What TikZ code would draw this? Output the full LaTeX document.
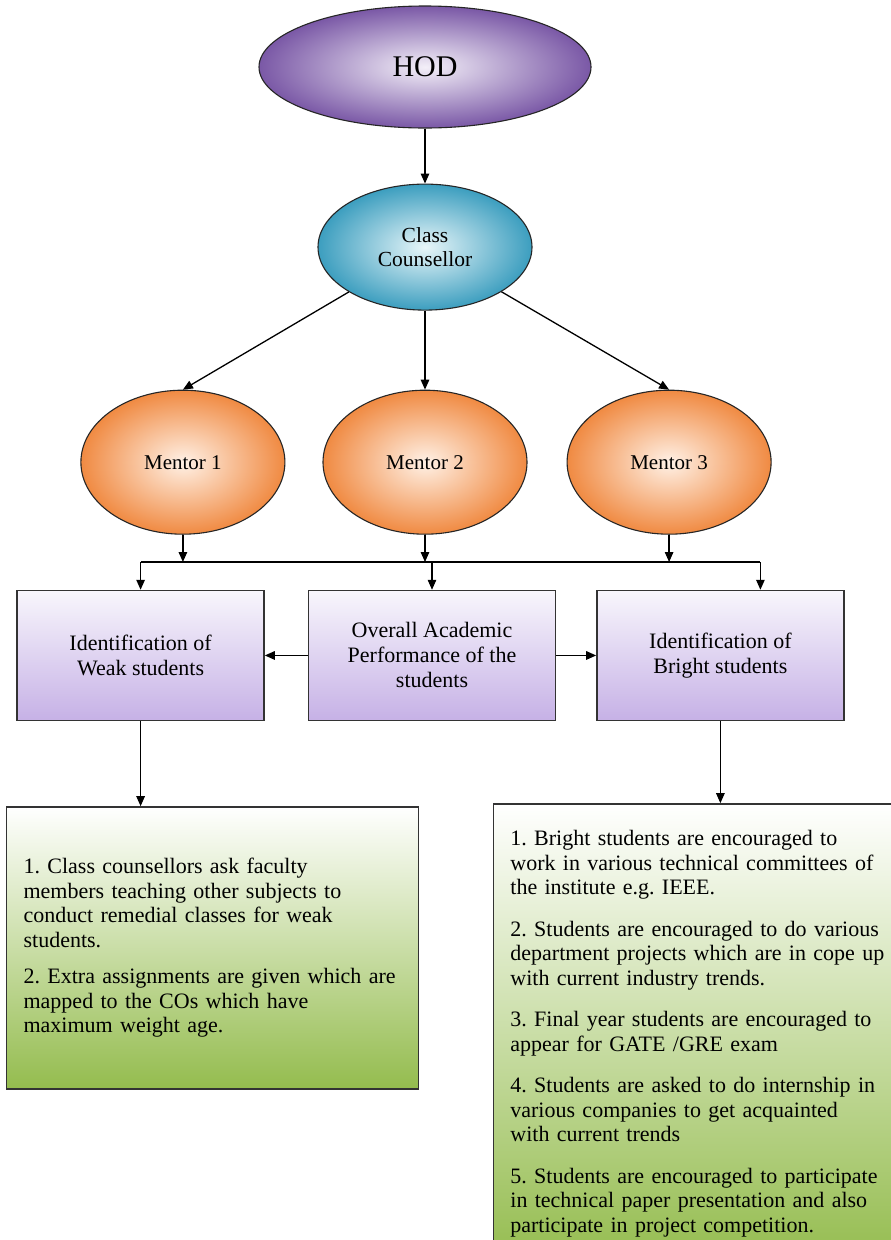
\documentclass[tikz,border=0pt]{standalone}
\usepackage{fontspec}
\setmainfont{Liberation Serif}
\frenchspacing
\usetikzlibrary{shapes.geometric, arrows.meta, positioning, calc}

\definecolor{hodpurple}{HTML}{7A58A6}
\definecolor{hodlight}{HTML}{F3EFF8}
\definecolor{ccblue}{HTML}{3C9EBF}
\definecolor{cclight}{HTML}{E8F6F9}
\definecolor{mentororange}{HTML}{F08A42}
\definecolor{mentorlight}{HTML}{FFF1E6}
\definecolor{boxtop}{HTML}{F8F6FC}
\definecolor{boxlav}{HTML}{C6B1E6}
\definecolor{notegreen}{HTML}{94BC4E}

\begin{document}
\begin{tikzpicture}[
    x=1pt, y=-1pt,
    line width=1.3pt,
    >={Triangle[length=10pt, width=8.5pt]},
    oval/.style={ellipse, draw=black!85, line width=1.1pt, inner sep=0pt, align=center},
    mentor/.style={oval, minimum width=204pt, minimum height=144pt, inner color=mentorlight, outer color=mentororange, font=\fontsize{21}{24}\selectfont},
    box/.style={rectangle, draw=black!80, line width=1.4pt, minimum width=247pt, minimum height=130pt, align=center, top color=boxtop, bottom color=boxlav, font=\fontsize{22}{25}\selectfont},
    notes/.style={rectangle, draw=black!80, line width=1.4pt, inner xsep=17pt, align=left, top color=white, bottom color=notegreen, font=\fontsize{22}{24.5}\selectfont}
]
    \useasboundingbox (0,0) rectangle (891,1240);
    \fill[white] (0,0) rectangle (891,1240);
    \clip (0,0) rectangle (891,1240);

    \node[oval, minimum width=332pt, minimum height=122pt, inner color=hodlight, outer color=hodpurple, font=\fontsize{30}{30}\selectfont] (hod) at (425,67) {HOD};
    \node[oval, minimum width=214pt, minimum height=126pt, inner color=cclight, outer color=ccblue, font=\fontsize{21.5}{24}\selectfont, below=55pt of hod] (cc) {Class\\ Counsellor};
    \node[mentor, below=79pt of cc] (m2) {Mentor 2};
    \node[mentor, left=37pt of m2] (m1) {Mentor 1};
    \node[mentor, right=39pt of m2] (m3) {Mentor 3};

    \node[box, below=55pt of m2, xshift=7pt] (overall) {Overall Academic\\ Performance of the\\ students};
    \node[box, left=43pt of overall] (weak) {Identification of\\ Weak students};
    \node[box, right=40pt of overall] (bright) {Identification of\\ Bright students};

    \node[notes, text width=378pt, minimum height=282pt, below=85pt of weak, xshift=72pt] (weaknote) {1. Class counsellors ask faculty\\ members teaching other subjects to\\ conduct remedial classes for weak\\ students.\\[12pt] 2. Extra assignments are given which are\\ mapped to the COs which have\\ maximum weight age.};
    \node[notes, text width=400pt, minimum height=460pt, below=82pt of bright, xshift=-10pt] (brightnote) {1. Bright students are encouraged to\\ work in various technical committees of\\ the institute e.g. IEEE.\\[17pt] 2. Students are encouraged to do various\\ department projects which are in cope up\\ with current industry trends.\\[17pt] 3. Final year students are encouraged to\\ appear for GATE /GRE exam\\[17pt] 4. Students are asked to do internship in\\ various companies to get acquainted\\ with current trends\\[17pt] 5. Students are encouraged to participate\\ in technical paper presentation and also\\ participate in project competition.};

    % bus between mentors and the three boxes
    \coordinate (bus) at (0,562);
    \coordinate[right=40pt of bright.north] (brighttop);

    \draw[->] (hod) -- (cc);
    \draw[->] (cc) -- (m1.north);
    \draw[->] (cc) -- (m2);
    \draw[->] (cc) -- (m3.north);
    \draw[->] (m1) -- (m1 |- bus);
    \draw[->] (m2) -- (m2 |- bus);
    \draw[->] (m3) -- (m3 |- bus);
    \draw (weak.north |- bus) -- (brighttop |- bus);
    \draw[->] (weak.north |- bus) -- (weak.north);
    \draw[->] (overall.north |- bus) -- (overall.north);
    \draw[->] (brighttop |- bus) -- (brighttop);
    \draw[->] (overall) -- (weak);
    \draw[->] (overall) -- (bright);
    \draw[->] (weak) -- (weak |- weaknote.north);
    \draw[->] (bright) -- (bright |- brightnote.north);
\end{tikzpicture}
\end{document}
